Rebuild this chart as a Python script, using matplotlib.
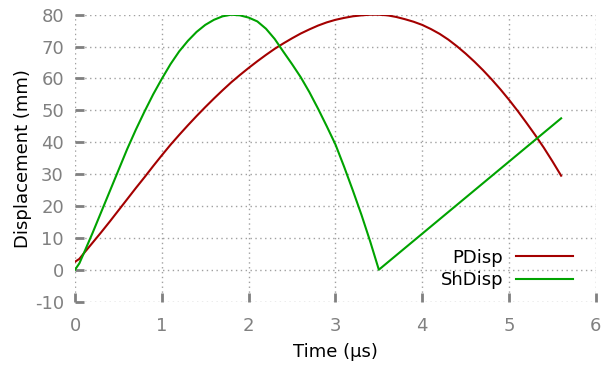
import matplotlib
matplotlib.use('Agg')
import matplotlib.pyplot as plt

plt.rcParams['font.family'] = 'DejaVu Sans'
plt.rcParams['font.size'] = 13
plt.rcParams['axes.unicode_minus'] = False

# P-wave displacement (mm) against time (us)
p_time = [0.0, 0.05, 0.1, 0.2, 0.3, 0.4, 0.5, 0.6, 0.7, 0.8, 0.9, 1.0, 1.1,
          1.2, 1.3, 1.4, 1.5, 1.6, 1.7, 1.8, 1.9, 2.0, 2.1, 2.2, 2.3, 2.4,
          2.5, 2.6, 2.7, 2.8, 2.9, 3.0, 3.1, 3.2, 3.3, 3.4, 3.5, 3.6, 3.7,
          3.8, 3.9, 4.0, 4.1, 4.2, 4.3, 4.4, 4.5, 4.6, 4.7, 4.8, 4.9, 5.0,
          5.1, 5.2, 5.3, 5.4, 5.5, 5.6]
p_disp = [2.5, 3.4, 5.1, 8.4, 11.7, 15.1, 18.6, 22.1, 25.6, 29.0, 32.5, 35.9,
          39.2, 42.3, 45.3, 48.2, 51.0, 53.7, 56.3, 58.8, 61.1, 63.3, 65.4,
          67.4, 69.3, 71.0, 72.6, 74.1, 75.4, 76.6, 77.6, 78.4, 79.0, 79.5,
          79.8, 80.0, 80.0, 79.8, 79.3, 78.6, 77.8, 76.8, 75.5, 74.0, 72.2,
          70.1, 67.8, 65.3, 62.6, 59.7, 56.6, 53.3, 49.8, 46.1, 42.3, 38.3,
          34.0, 29.5]

# shear displacement (mm) against time (us)
sh_time = [0.0, 0.05, 0.1, 0.2, 0.3, 0.4, 0.5, 0.6, 0.7, 0.8, 0.9, 1.0, 1.1,
           1.2, 1.3, 1.4, 1.5, 1.6, 1.7, 1.8, 1.9, 2.0, 2.1, 2.2, 2.3, 2.4,
           2.5, 2.6, 2.7, 2.8, 2.9, 3.0, 3.1, 3.2, 3.3, 3.4, 3.5, 5.6]
sh_disp = [0.0, 2.0, 5.1, 11.4, 18.0, 24.6, 31.2, 37.8, 43.9, 49.6, 55.0,
           59.9, 64.5, 68.5, 71.8, 74.6, 76.8, 78.4, 79.5, 80.0, 79.8, 79.1,
           77.9, 75.6, 72.4, 68.4, 64.5, 60.4, 55.7, 50.5, 45.0, 39.3, 32.3,
           24.9, 17.2, 8.9, 0.0, 47.5]

fig = plt.figure(figsize=(6.16, 3.67), dpi=100)
ax = fig.add_axes([0.1218, 0.1782, 0.8455, 0.7817])

ax.plot(p_time, p_disp, color='#a40000', lw=1.5, label='PDisp')
ax.plot(sh_time, sh_disp, color='#00a300', lw=1.5, label='ShDisp')

ax.set_xlim(0, 6)
ax.set_ylim(-10, 80)
ax.set_xticks(range(0, 7))
ax.set_yticks(range(-10, 81, 10))

for s in ax.spines.values():
    s.set_visible(False)
ax.grid(True, color='#a0a0a0', lw=1, linestyle=(0, (1, 2.5)))
ax.set_axisbelow(True)
ax.tick_params(direction='in', length=6.5, width=2, color='#808080',
               labelcolor='#808080', labelsize=13)
ax.tick_params(axis='x', pad=11)
ax.tick_params(axis='y', pad=8)

ax.set_xlabel('Time (µs)', fontsize=13)
ax.set_ylabel('Displacement (mm)', fontsize=13)
ax.xaxis.set_label_coords(0.5, -0.146)
ax.yaxis.set_label_coords(-0.082, 0.5)

ax.legend(loc='center right', bbox_to_anchor=(0.957, 0.114), frameon=False,
          markerfirst=False, handlelength=3.2, handletextpad=0.7,
          labelspacing=0.25, borderpad=0, borderaxespad=0, fontsize=13)

fig.savefig('out.png', dpi=100, facecolor='white')
